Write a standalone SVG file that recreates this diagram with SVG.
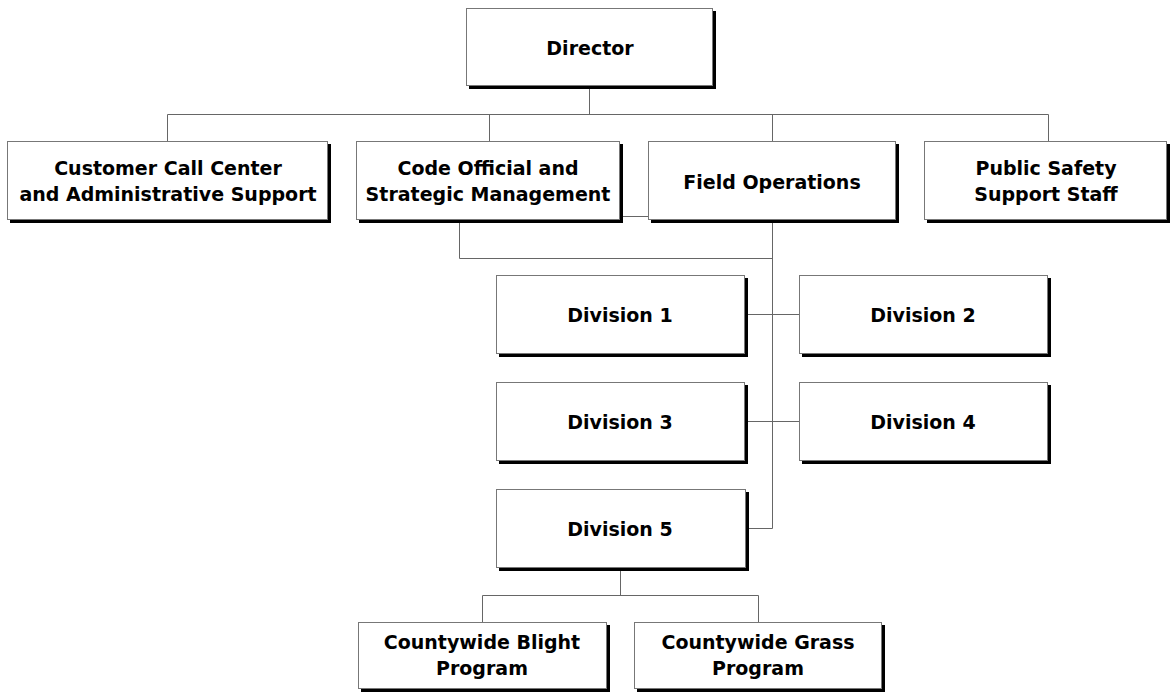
<svg xmlns="http://www.w3.org/2000/svg" width="1172" height="692" viewBox="0 0 1172 692">
<style>
.sh{fill:#000}
.bx{fill:#fff;stroke:#777;stroke-width:1}
.t{font-family:"DejaVu Sans",Verdana,sans-serif;font-weight:bold;font-size:19px;fill:#000;text-anchor:middle}
.c{fill:none;stroke:#666;stroke-width:1}
</style>
<rect width="1172" height="692" fill="#fff"/>
<g id="connectors">
<path class="c" d="M589.5 86V114.5M167.5 114.5H1048.5M167.5 114.5V141M489.5 114.5V141M772.5 114.5V141M1048.5 114.5V141"/>
<path class="c" d="M622 216.5H648"/>
<path class="c" d="M459.5 222V258.5H772.5M772.5 222V528.5H748"/>
<path class="c" d="M747 314.5H799M747 421.5H799"/>
<path class="c" d="M620.5 570V595.5M482.5 595.5H758.5M482.5 595.5V622M758.5 595.5V622"/>
</g>
<g id="director">
<rect class="sh" x="469" y="11" width="247" height="78"/>
<rect class="bx" x="466.5" y="8.5" width="246" height="77"/>
<text class="t" x="590" y="55">Director</text>
</g>
<g id="customer">
<rect class="sh" x="10" y="144" width="321" height="79"/>
<rect class="bx" x="7.5" y="141.5" width="320" height="78"/>
<text class="t" x="168" y="175">Customer Call Center</text>
<text class="t" x="168" y="201">and Administrative Support</text>
</g>
<g id="code-official">
<rect class="sh" x="359" y="144" width="264" height="79"/>
<rect class="bx" x="356.5" y="141.5" width="263" height="78"/>
<text class="t" x="488" y="175">Code Official and</text>
<text class="t" x="488" y="201">Strategic Management</text>
</g>
<g id="field-operations">
<rect class="sh" x="651" y="144" width="248" height="79"/>
<rect class="bx" x="648.5" y="141.5" width="247" height="78"/>
<text class="t" x="772" y="189">Field Operations</text>
</g>
<g id="public-safety">
<rect class="sh" x="927" y="144" width="243" height="79"/>
<rect class="bx" x="924.5" y="141.5" width="242" height="78"/>
<text class="t" x="1046" y="175">Public Safety</text>
<text class="t" x="1046" y="201">Support Staff</text>
</g>
<g id="division-1">
<rect class="sh" x="499" y="278" width="249" height="79"/>
<rect class="bx" x="496.5" y="275.5" width="248" height="78"/>
<text class="t" x="620" y="322">Division 1</text>
</g>
<g id="division-2">
<rect class="sh" x="802" y="278" width="249" height="79"/>
<rect class="bx" x="799.5" y="275.5" width="248" height="78"/>
<text class="t" x="923" y="322">Division 2</text>
</g>
<g id="division-3">
<rect class="sh" x="499" y="385" width="249" height="79"/>
<rect class="bx" x="496.5" y="382.5" width="248" height="78"/>
<text class="t" x="620" y="429">Division 3</text>
</g>
<g id="division-4">
<rect class="sh" x="802" y="385" width="249" height="79"/>
<rect class="bx" x="799.5" y="382.5" width="248" height="78"/>
<text class="t" x="923" y="429">Division 4</text>
</g>
<g id="division-5">
<rect class="sh" x="499" y="492" width="250" height="79"/>
<rect class="bx" x="496.5" y="489.5" width="249" height="78"/>
<text class="t" x="620" y="536">Division 5</text>
</g>
<g id="blight">
<rect class="sh" x="361" y="625" width="249" height="67"/>
<rect class="bx" x="358.5" y="622.5" width="248" height="66"/>
<text class="t" x="482" y="649">Countywide Blight</text>
<text class="t" x="482" y="675">Program</text>
</g>
<g id="grass">
<rect class="sh" x="637" y="625" width="248" height="67"/>
<rect class="bx" x="634.5" y="622.5" width="247" height="66"/>
<text class="t" x="758" y="649">Countywide Grass</text>
<text class="t" x="758" y="675">Program</text>
</g>
</svg>
